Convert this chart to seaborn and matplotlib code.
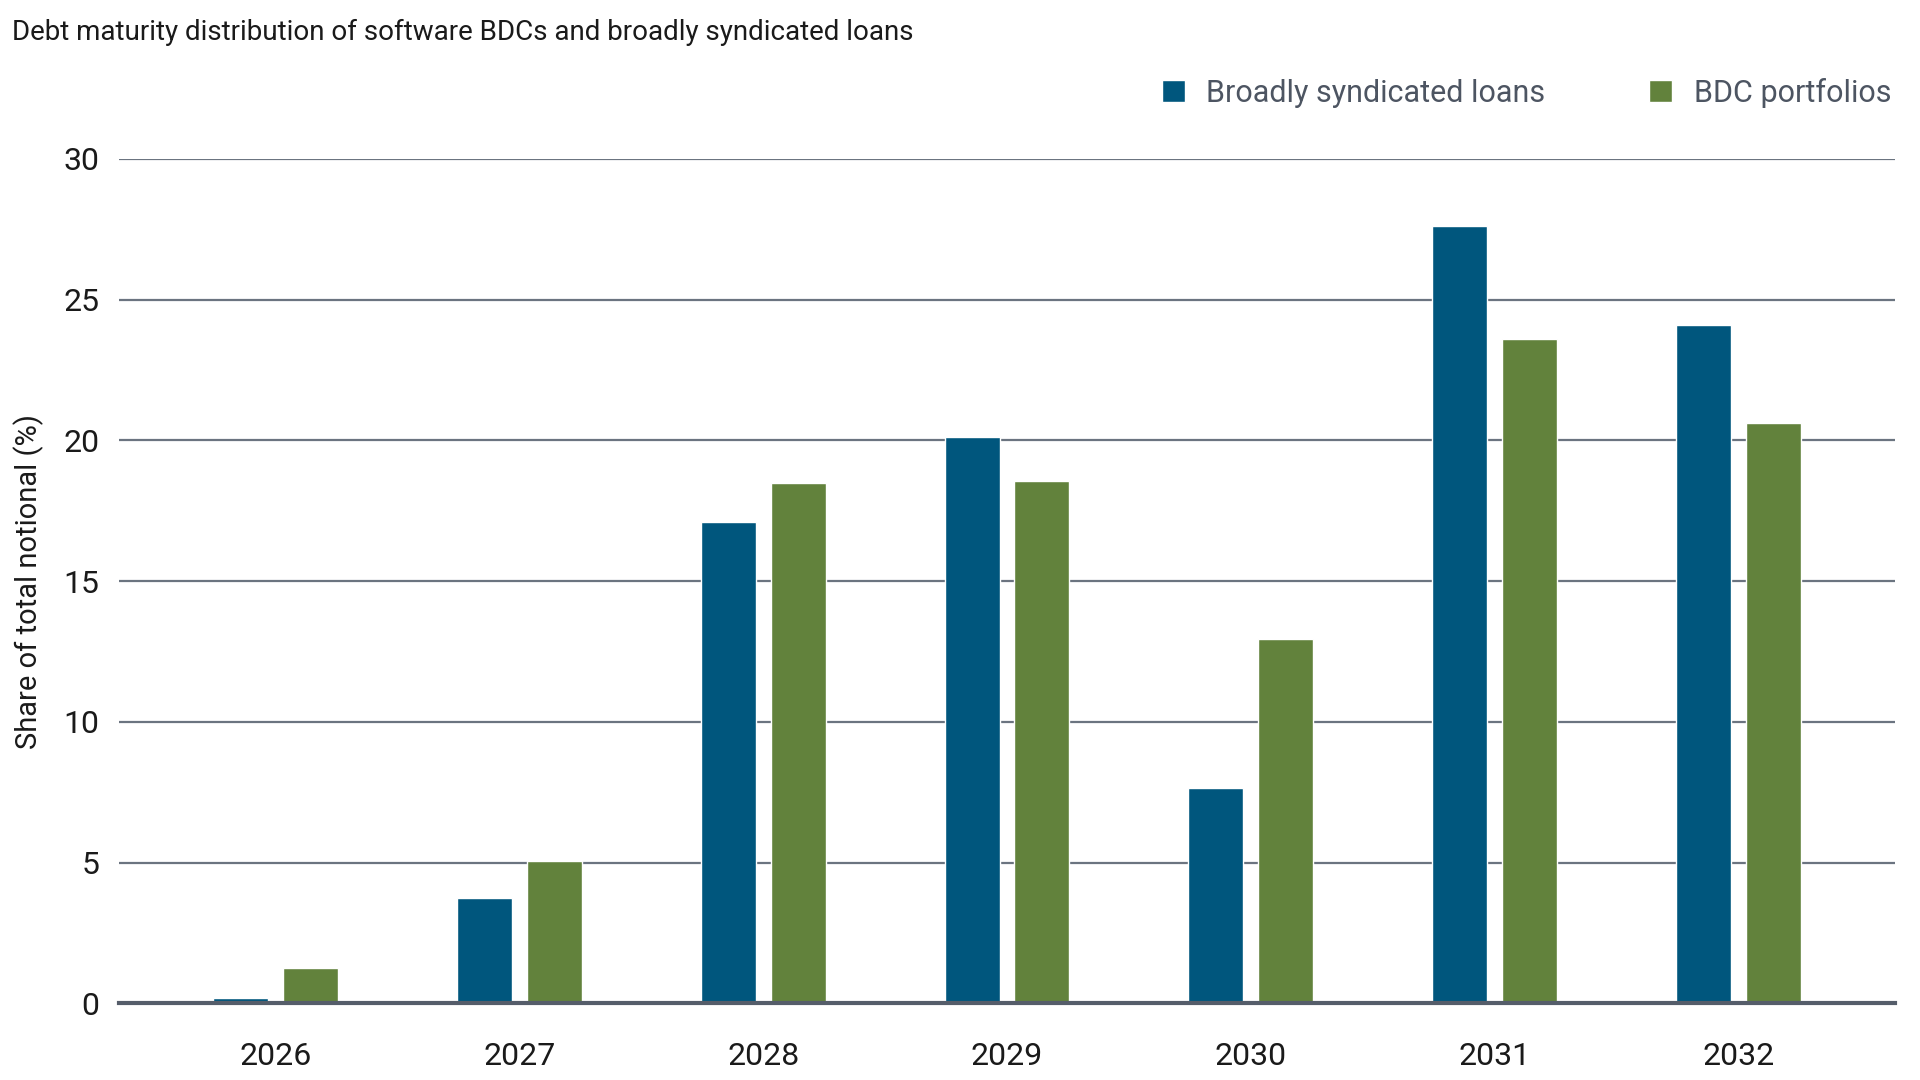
import pandas as pd
import seaborn as sns
import matplotlib.pyplot as plt
from matplotlib import font_manager

years = ['2026', '2027', '2028', '2029', '2030', '2031', '2032']
bsl = [0.2, 3.75, 17.1, 20.1, 7.65, 27.6, 24.1]
bdc = [1.25, 5.05, 18.5, 18.55, 12.95, 23.6, 20.6]
series = ['Broadly syndicated loans', 'BDC portfolios']
colors = ['#00567d', '#62823c']

df = pd.DataFrame({
    'year': years * 2,
    'value': bsl + bdc,
    'series': [series[0]] * len(years) + [series[1]] * len(years),
})

sns.set_theme(style='white')
names = {f.name for f in font_manager.fontManager.ttflist}
font = 'Liberation Sans Narrow' if 'Liberation Sans Narrow' in names else 'Roboto'
plt.rcParams['font.family'] = [font, 'DejaVu Sans']

fig = plt.figure(figsize=(19.2, 10.8), dpi=100)
ax = fig.add_axes([0.062, 0.071, 0.925, 0.782])

sns.barplot(data=df, x='year', y='value', hue='series', palette=colors,
            width=0.572, gap=0.21, saturation=1, ax=ax, legend=True)

ax.set_ylim(0, 30)
ax.set_xlim(-0.643, 6.643)
ax.set_yticks(range(0, 31, 5))
ax.yaxis.grid(True, color='#6b7480', lw=1.6)
ax.set_axisbelow(True)
for s in ['top', 'right', 'left']:
    ax.spines[s].set_visible(False)
ax.spines['bottom'].set_color('#555d6a')
ax.spines['bottom'].set_linewidth(3)
ax.tick_params(axis='both', length=0, labelsize=23, colors='#1a1a1a')
ax.tick_params(axis='x', pad=28)
ax.tick_params(axis='y', pad=14)
ax.set_xlabel('')
ax.set_ylabel('Share of total notional (%)', fontsize=21, color='#1a1a1a', labelpad=14)

handles, labels = ax.get_legend_handles_labels()
ax.legend(handles, labels, loc='center right', bbox_to_anchor=(0.993, 0.914),
          bbox_transform=fig.transFigure, ncol=2, frameon=False, fontsize=22,
          labelcolor='#4d5562', handlelength=0.75, handleheight=0.75,
          handletextpad=0.7, columnspacing=3.4, borderpad=0)

fig.text(0.006, 0.970, 'Debt maturity distribution of software BDCs and broadly syndicated loans',
         fontsize=20, color='#1a1a1a', va='center', ha='left')

fig.savefig('out.png', dpi=100)
